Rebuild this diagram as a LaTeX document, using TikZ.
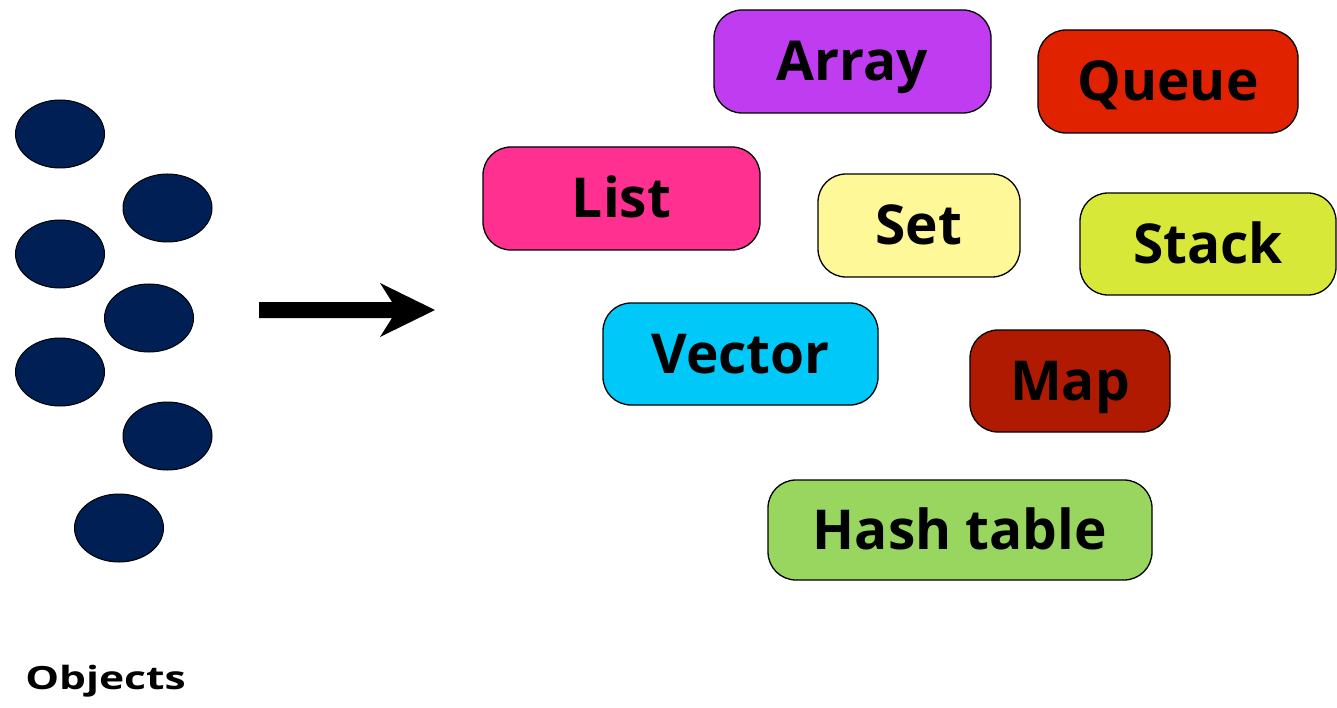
\documentclass[tikz,border=0pt]{standalone}
\usepackage{fontspec}
\setmainfont{Open Sans}
\usetikzlibrary{shapes.geometric}
\definecolor{arrayc}{HTML}{C03CF0}
\definecolor{queuec}{HTML}{E02200}
\definecolor{listc}{HTML}{FF3090}
\definecolor{setc}{HTML}{FFF898}
\definecolor{stackc}{HTML}{D8E838}
\definecolor{vectorc}{HTML}{00C8F8}
\definecolor{mapc}{HTML}{B01A00}
\definecolor{hashc}{HTML}{98D660}
\definecolor{navy}{HTML}{001F55}
\tikzset{
  box/.style={draw=black, line width=1.3pt, rounded corners=28pt, inner sep=0pt,
    font=\fontsize{55}{60}\selectfont\bfseries, text height=39pt, text depth=0pt},
  obj/.style={ellipse, draw=black, line width=1pt, fill=navy, minimum width=89pt, minimum height=68pt, inner sep=0pt},
}
\begin{document}
\begin{tikzpicture}[x=1pt,y=-1pt]
\useasboundingbox (0,0) rectangle (1337,708);
% objects
\node[obj] (o1) at (60,134) {};
\node[obj] (o2) at (167.5,208) {};
\node[obj] (o3) at (60,254) {};
\node[obj] (o4) at (149,318) {};
\node[obj] (o5) at (60,372) {};
\node[obj] (o6) at (167.5,436) {};
\node[obj] (o7) at (119,528) {};
\node[anchor=base west, inner sep=0pt, transform shape, xscale=1.33, font=\fontsize{32}{36}\selectfont\bfseries] (objlbl) at (25,689) {Objects};
% arrow
\fill[black] (259,302) -- (392,302) -- (380,283) -- (435,310) -- (380,337) -- (392,318) -- (259,318) -- cycle;
% containers
\node[box, fill=arrayc, minimum width=277pt, minimum height=103pt] (array) at (852.5,61.5) {Array};
\node[box, fill=queuec, minimum width=260pt, minimum height=103pt] (queue) at (1168,81.5) {Queue};
\node[box, fill=listc, minimum width=277pt, minimum height=103pt] (list) at (621.5,198.5) {List};
\node[box, fill=setc, minimum width=202pt, minimum height=103pt] (set) at (919,225.5) {Set};
\node[box, fill=stackc, minimum width=256pt, minimum height=102pt] (stack) at (1208,244) {Stack};
\node[box, fill=vectorc, minimum width=275pt, minimum height=102pt] (vector) at (740.5,354) {Vector};
\node[box, fill=mapc, minimum width=200pt, minimum height=102pt] (map) at (1070,381) {Map};
\node[box, fill=hashc, minimum width=384pt, minimum height=100pt] (hash) at (960,530) {Hash table};
\end{tikzpicture}
\end{document}
